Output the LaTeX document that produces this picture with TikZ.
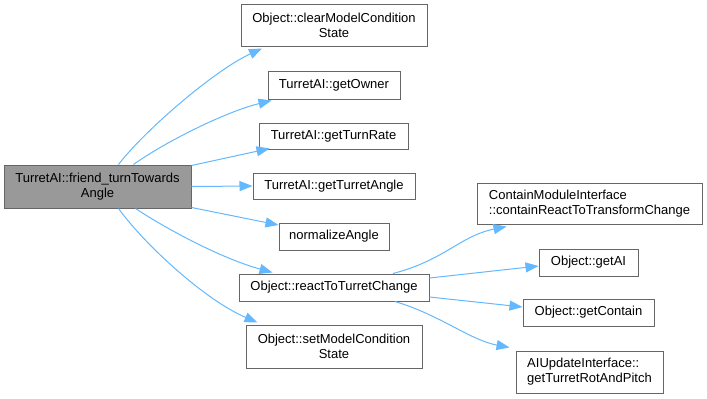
\documentclass[tikz,border=0pt]{standalone}
\usepackage{fontspec}
\setmainfont{Liberation Sans}
\usetikzlibrary{arrows.meta}
\definecolor{edgeblue}{HTML}{63B8FF}
\definecolor{boxline}{HTML}{666666}
\definecolor{rootfill}{HTML}{999999}
\begin{document}
\begin{tikzpicture}[x=1pt,y=-1pt,
  fn/.style={draw=boxline,line width=1pt,fill=white,inner sep=0pt,align=center,
    font=\fontsize{13}{15}\selectfont},
  fnleft/.style={fn,align=left},
  rootfn/.style={fn,fill=rootfill},
  call/.style={draw=edgeblue,line width=1pt,-{Triangle[length=13pt,width=10pt]}}]
\useasboundingbox (0,0) rectangle (707,399);

% caller
\node[rootfn,minimum width=187pt,minimum height=43pt] (root) at (97.5,186.5)
  {TurretAI::friend\_turnTowards\\Angle};

% direct callees
\node[fn,minimum width=186pt,minimum height=42pt] (clear) at (334,25)
  {Object::clearModelCondition\\State};
\node[fn,minimum width=132pt,minimum height=28pt] (owner) at (334,85) {TurretAI::getOwner};
\node[fn,minimum width=149pt,minimum height=26pt] (rate) at (333.5,136) {TurretAI::getTurnRate};
\node[fn,minimum width=162pt,minimum height=26pt] (angle) at (334,186) {TurretAI::getTurretAngle};
\node[fn,minimum width=110pt,minimum height=27pt] (norm) at (334,236.5) {normalizeAngle};
\node[fn,minimum width=190pt,minimum height=27pt] (react) at (334,287.5) {Object::reactToTurretChange};
\node[fn,minimum width=176pt,minimum height=43pt] (setmc) at (334,346.5)
  {Object::setModelCondition\\State};

% callees of reactToTurretChange
\node[fnleft,minimum width=225pt,minimum height=41pt] (cmi) at (589.5,203.5)
  {ContainModuleInterface\\::containReactToTransformChange};
\node[fn,minimum width=99pt,minimum height=27pt] (getai) at (588.5,262.5) {Object::getAI};
\node[fn,minimum width=131pt,minimum height=27pt] (getcont) at (588.5,312.5) {Object::getContain};
\node[fnleft,minimum width=147pt,minimum height=42pt] (aiupd) at (589.5,372)
  {AIUpdateInterface::\\getTurretRotAndPitch};

% edges from the caller
\draw[call] ([xshift=21pt]root.north) .. controls (145,130) and (215,70) .. ([xshift=-72pt,yshift=-2pt]clear.south);
\draw[call] ([xshift=36pt]root.north) .. controls (165,142) and (225,112) .. ([xshift=4pt,yshift=-1pt]owner.south west);
\draw[call] ([yshift=-1pt]root.north east) -- ([xshift=11pt,yshift=1pt]rate.south west);
\draw[call] (root.east) -- (angle.west);
\draw[call] ([yshift=1pt]root.south east) -- ([yshift=11.5pt]norm.west);
\draw[call] ([xshift=38pt]root.south) .. controls (165,228) and (220,258) .. ([xshift=34pt,yshift=1pt]react.north west);
\draw[call] ([xshift=21pt]root.south) .. controls (145,245) and (205,300) .. ([xshift=12pt,yshift=2pt]setmc.north west);

% edges from reactToTurretChange
\draw[call] ([xshift=59pt]react.north) .. controls (445,260) and (460,236) .. ([xshift=30pt,yshift=-2pt]cmi.south west);
\draw[call] ([yshift=9.5pt]react.east) -- ([yshift=-3.5pt]getai.west);
\draw[call] ([yshift=-9.5pt]react.east) -- ([yshift=5.5pt]getcont.west);
\draw[call] ([xshift=61pt]react.south) .. controls (440,315) and (470,340) .. ([xshift=-6pt,yshift=3pt]aiupd.north west);
\end{tikzpicture}
\end{document}
